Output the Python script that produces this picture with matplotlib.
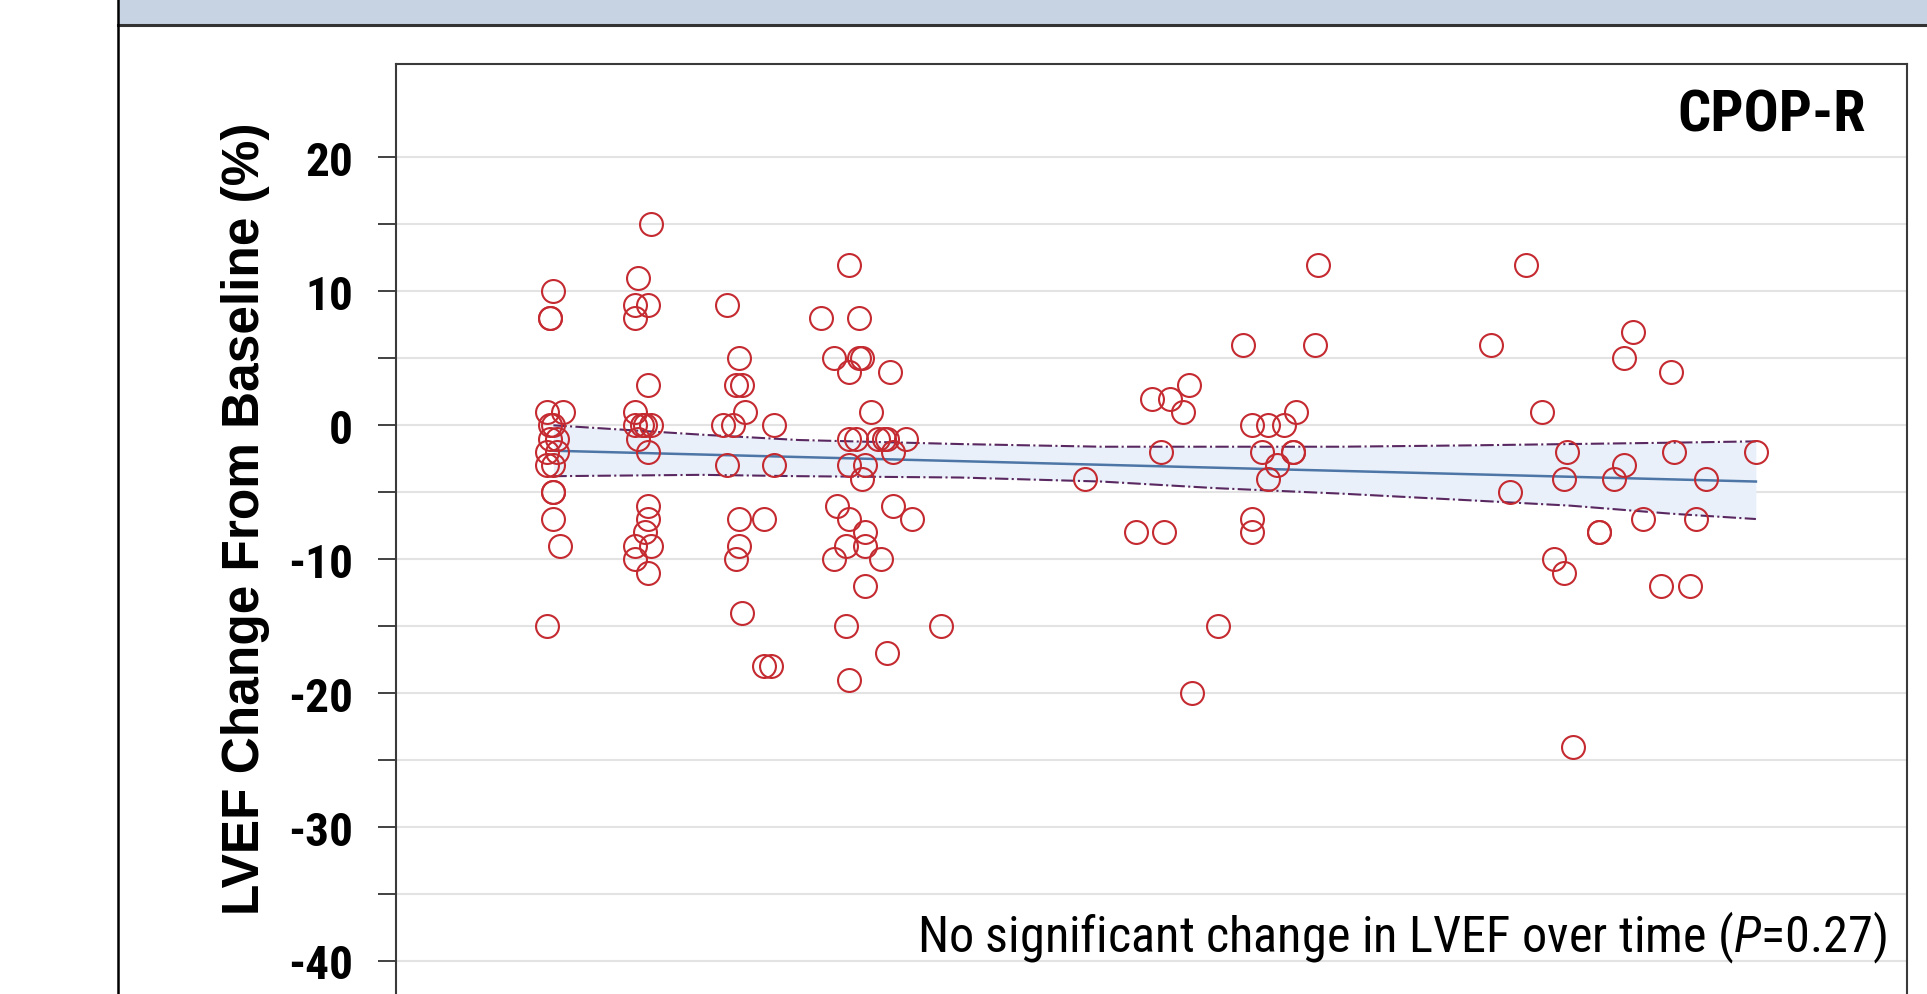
import matplotlib
matplotlib.use("Agg")
import matplotlib.pyplot as plt
from matplotlib import font_manager
from matplotlib.patches import Rectangle
from matplotlib.lines import Line2D

disponibles = {f.name for f in font_manager.fontManager.ttflist}


def pick_font(candidatas, fallback):
    for fam in candidatas:
        if fam in disponibles:
            return fam
    return fallback


NARROW = pick_font(["Nimbus Sans Narrow", "Liberation Sans Narrow", "Arial Narrow",
                    "Roboto Condensed", "Archivo Narrow", "PT Sans Narrow"], "Liberation Sans")
WIDE = pick_font(["Liberation Sans", "Arimo", "Nimbus Sans"], "DejaVu Sans")

plt.rcParams["axes.unicode_minus"] = False
plt.rcParams["mathtext.fontset"] = "custom"
plt.rcParams["mathtext.rm"] = NARROW
plt.rcParams["mathtext.it"] = NARROW + ":italic"

# === DATOS (meses desde inicio, cambio de FEVI %) ===
# visita ~5 meses
m1 = [5.0, 4.9, 4.9, 4.8, 5.3, 4.9, 5.0, 5.1, 4.9, 4.8, 5.1, 4.8, 5.0, 5.0, 5.0, 5.0, 5.2, 4.8]
v1 = [10, 8, 8, 1, 1, 0, 0, -1, -1, -2, -2, -3, -3, -5, -5, -7, -9, -15]
# visita ~8 meses
m2 = [8.1, 7.7, 7.6, 8.0, 7.6, 8.0, 7.6, 7.6, 7.8, 7.9, 8.1, 7.7, 8.0, 8.0, 8.0, 7.9, 7.6, 8.1, 7.6, 8.0]
v2 = [15, 11, 9, 9, 8, 3, 1, 0, 0, 0, 0, -1, -2, -6, -7, -8, -9, -9, -10, -11]
# visita ~11 meses
m3 = [10.5, 10.9, 10.8, 11.0, 11.1, 10.4, 10.7, 12.0, 10.5, 12.0, 10.9, 11.7, 10.9, 10.8, 11.0, 11.7, 11.9]
v3 = [9, 5, 3, 3, 1, 0, 0, 0, -3, -3, -7, -7, -9, -10, -14, -18, -18]
# visita ~15 meses
m4 = [14.4, 13.5, 14.7, 13.9, 14.7, 14.8, 14.4, 15.7, 15.1, 14.4, 14.6, 15.3, 15.5, 15.6, 16.2, 15.8,
      14.4, 14.9, 14.8, 14.0, 15.8, 14.4, 16.4, 14.9, 14.3, 14.9, 13.9, 15.4, 14.9, 14.3, 15.6, 14.4, 17.3]
v4 = [12, 8, 8, 5, 5, 5, 4, 4, 1, -1, -1, -1, -1, -1, -1, -2,
      -3, -3, -4, -6, -6, -7, -7, -8, -9, -9, -10, -10, -12, -15, -17, -19, -15]
# visita ~24 meses
m5 = [21.9, 23.5, 24.4, 24.0, 24.6, 25.2, 25.0, 24.3, 26.1, 25.3]
v5 = [-4, -8, -8, 2, 2, 3, 1, -2, -15, -20]
# visita ~28 meses
m6 = [26.9, 29.2, 29.3, 27.2, 27.7, 28.2, 28.6, 27.5, 28.5, 28.5, 28.0, 27.7, 27.2, 27.2]
v6 = [6, 6, 12, 0, 0, 0, 1, -2, -2, -2, -3, -4, -7, -8]
# visita ~38 meses
m7 = [34.8, 35.9, 39.3, 39.0, 40.5, 36.4, 37.2, 40.6, 43.2, 39.0, 37.1, 38.7, 41.6, 35.4,
      39.6, 41.3, 38.2, 38.2, 36.8, 37.1, 40.2, 41.1, 37.4]
v7 = [6, 12, 7, 5, 4, 1, -2, -2, -2, -3, -4, -4, -4, -5,
      -7, -7, -8, -8, -10, -11, -12, -12, -24]

meses = m1 + m2 + m3 + m4 + m5 + m6 + m7
cambio = v1 + v2 + v3 + v4 + v5 + v6 + v7

# regresion y banda de confianza
reg_x = [5.0, 43.2]
reg_y = [-1.9, -4.2]
ci_x = [5.0, 9.7, 12.8, 17.9, 22.4, 26.1, 30.0, 34.1, 37.3, 40.5, 43.2]
ci_sup = [0.0, -0.7, -1.1, -1.4, -1.6, -1.6, -1.6, -1.5, -1.4, -1.3, -1.2]
ci_inf = [-3.8, -3.7, -3.8, -3.9, -4.2, -4.7, -5.1, -5.6, -6.0, -6.6, -7.0]

y_major = [-40, -30, -20, -10, 0, 10, 20]
y_minor = [-35, -25, -15, -5, 5, 15]
y_labels = ["-40", "-30", "-20", "-10", "0", "10", "20"]

# === FIGURA ===
W, H = 1927, 995
fig = plt.figure(figsize=(W / 100, H / 100), dpi=100)
fig.patch.set_facecolor("white")

# banda de encabezado y bordes de la diapositiva
fig.patches.append(Rectangle((118 / W, 1 - 25 / H), 1 - 118 / W, 25 / H,
                             transform=fig.transFigure, facecolor="#c7d3e3",
                             edgecolor="none", zorder=0))
fig.lines.append(Line2D([118 / W, 1], [1 - 26 / H] * 2, transform=fig.transFigure,
                        color="#333333", lw=2.2))
fig.lines.append(Line2D([118 / W] * 2, [0, 1], transform=fig.transFigure,
                        color="black", lw=1.8))

ax = fig.add_axes([396 / W, 1 - 1100 / H, (1907 - 396) / W, (1100 - 65) / H])
ax.set_xlim(0, 48)
ax.set_ylim(-50.31, 26.98)

ax.fill_between(ci_x, ci_inf, ci_sup, color="#e9f0fa", zorder=1, lw=0)
ax.plot(ci_x, ci_sup, color="#5a2860", lw=1.5, ls="-.", zorder=2)
ax.plot(ci_x, ci_inf, color="#5a2860", lw=1.5, ls="-.", zorder=2)
ax.plot(reg_x, reg_y, color="#4d76a6", lw=1.8, zorder=2)

ax.plot(meses, cambio, ls="none", marker="o", ms=16.5, mfc="none",
        mec="#c42a30", mew=1.5, zorder=3)

ax.set_yticks(y_major)
ax.set_yticklabels(y_labels)
ax.set_yticks(y_minor, minor=True)
ax.set_xticks([])
ax.grid(axis="y", which="both", color="#e3e3e3", lw=1.5, zorder=0)
ax.set_axisbelow(True)
ax.tick_params(axis="y", which="both", direction="out", length=13, width=1.3,
               color="#333333", pad=18, labelsize=34)
for t in ax.get_yticklabels():
    t.set_fontfamily(NARROW)
    t.set_fontweight("bold")

for s in ["left", "top", "right"]:
    ax.spines[s].set_color("#3a3a3a")
    ax.spines[s].set_linewidth(1.5)
ax.spines["bottom"].set_visible(False)

fig.text(245 / W, 1 - 519 / H, "LVEF Change From Baseline (%)", rotation=90,
         ha="center", va="center", fontsize=37, fontweight="bold", family=WIDE)
fig.text(1866 / W, 1 - 132 / H, "CPOP-R", ha="right", va="baseline",
         fontsize=42, fontweight="bold", family=NARROW)
t_nota = fig.text(1887 / W, 1 - 952 / H,
                  r"No significant change in LVEF over time ($\mathit{P}$=0.27)",
                  ha="right", va="baseline", fontsize=37, family=NARROW)

# ajustar el ancho de la nota al de la imagen original
fig.canvas.draw()
rend = fig.canvas.get_renderer()
w = t_nota.get_window_extent(rend).width
if w > 0:
    t_nota.set_fontsize(t_nota.get_fontsize() * 970 / w)

fig.savefig("out.png", dpi=100)
